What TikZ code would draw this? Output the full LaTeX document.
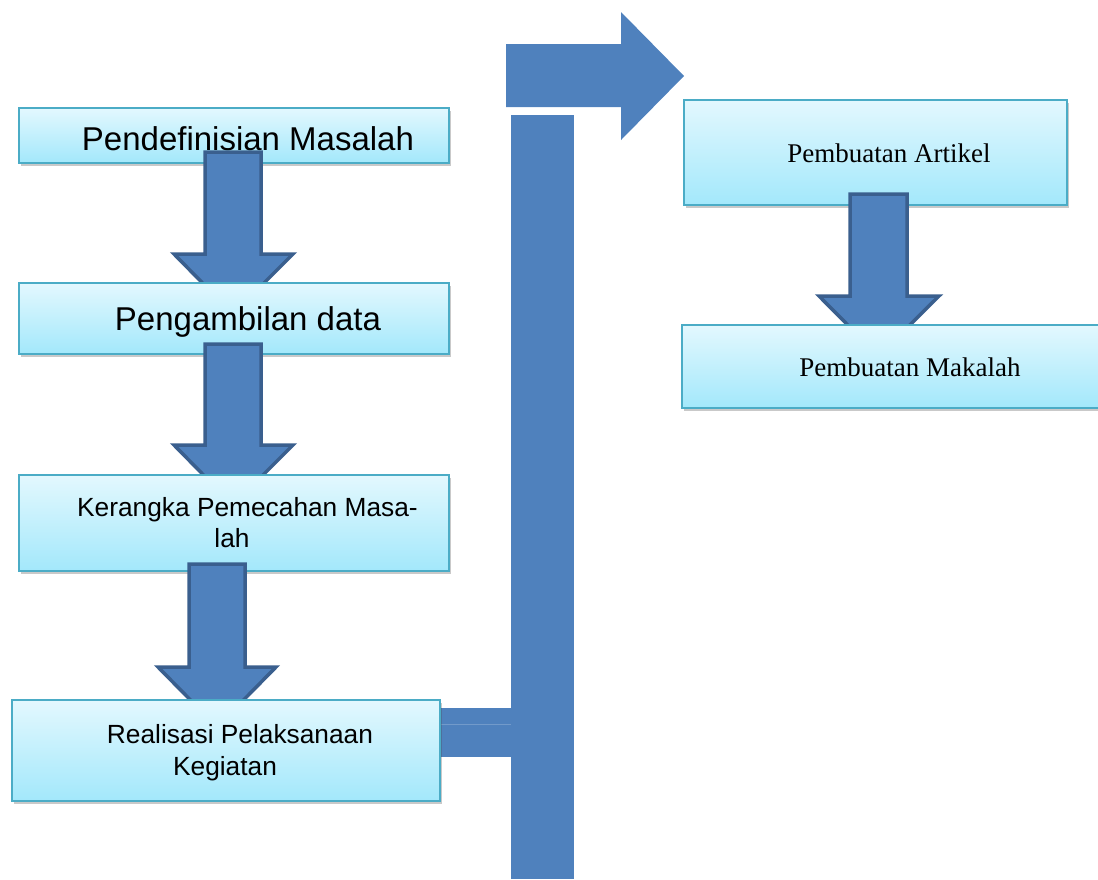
\documentclass[tikz,border=0pt]{standalone}
\usepackage{fontspec}
\setmainfont{Liberation Serif}
\setsansfont{Liberation Sans}
\usetikzlibrary{shadows}
\definecolor{boxtop}{HTML}{E3F8FE}
\definecolor{boxbot}{HTML}{A3E8FB}
\definecolor{boxline}{HTML}{4BACC6}
\definecolor{arrfill}{HTML}{4F81BD}
\definecolor{arrline}{HTML}{3A5F8E}
\tikzset{
  flowbox/.style={rectangle, draw=boxline, line width=1.5pt, top color=boxtop, bottom color=boxbot,
    inner sep=0pt, anchor=north west,
    drop shadow={shadow xshift=2.5pt, shadow yshift=-3pt, opacity=0.3, fill=black!70}},
  blockarrow/.style={fill=arrfill, draw=arrline, line width=3.5pt, line join=miter},
  bigconn/.style={fill=arrfill, draw=none},
  biglab/.style={font=\sffamily\fontsize{33}{38}\selectfont, anchor=base, inner sep=0pt},
  sanslab/.style={font=\sffamily\fontsize{26.3}{31}\selectfont, anchor=base, inner sep=0pt},
  seriflab/.style={font=\rmfamily\fontsize{27}{32}\selectfont, anchor=base, inner sep=0pt},
}
% shaft left, shaft right, shaft top, head left, head right, head y, tip y
\newcommand\mkblockarrow[7]{%
  \draw[blockarrow] (#1,#3) -- (#2,#3) -- (#2,#6) -- (#5,#6) -- ({(#1+#2)/2},#7)
    -- (#4,#6) -- (#1,#6) -- cycle;}
\begin{document}
\begin{tikzpicture}[x=1pt, y=-1pt]
\useasboundingbox (0,0) rectangle (1098,879);
\clip (0,0) rectangle (1098,879);

% big connector: vertical bar and turning arrow
\fill[bigconn] (511,115) rectangle (574,879);
\fill[bigconn] (506,44) -- (621,44) -- (621,12) -- (684,76) -- (621,140)
  -- (621,107) -- (506,107) -- cycle;
\fill[bigconn] (440,708) rectangle (511,757);
\draw[arrfill!80!white, line width=0.8pt] (440,724) -- (511,724);

% left column
\node[flowbox, minimum width=430pt, minimum height=55pt] (b1) at (18,107) {};
\node[biglab] (t1) at (248,150) {Pendefinisian Masalah};
\mkblockarrow{205}{261}{152}{174}{293}{254}{314}

\node[flowbox, minimum width=430pt, minimum height=71pt] (b2) at (18,282) {};
\node[biglab] (t2) at (248,330) {Pengambilan data};
\mkblockarrow{205}{261}{344}{174}{293}{445}{505}

\node[flowbox, minimum width=430pt, minimum height=96pt] (b3) at (18,474) {};
\node[sanslab] (t3a) at (247.5,516) {Kerangka Pemecahan Masa-};
\node[sanslab] (t3b) at (232,547) {lah};
\mkblockarrow{189}{245}{564}{158}{276}{667}{727}

\node[flowbox, minimum width=428pt, minimum height=101pt] (b4) at (11,699) {};
\node[sanslab] (t4a) at (240,743) {Realisasi Pelaksanaan};
\node[sanslab] (t4b) at (225,775) {Kegiatan};

% right column
\node[flowbox, minimum width=383pt, minimum height=105pt] (b5) at (683,99) {};
\node[seriflab] (t5) at (889,162) {Pembuatan Artikel};
\mkblockarrow{850}{907}{194}{819}{939}{296}{356}

\node[flowbox, minimum width=430pt, minimum height=83pt] (b6) at (681,324) {};
\node[seriflab] (t6) at (910,376) {Pembuatan Makalah};
\end{tikzpicture}
\end{document}
